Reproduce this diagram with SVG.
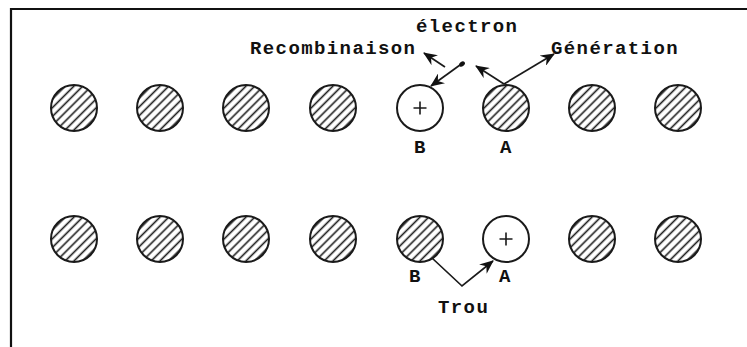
<svg xmlns="http://www.w3.org/2000/svg" width="747" height="347" viewBox="0 0 747 347">
  <defs>
    <!-- diagonal hatching used for the neutral atoms -->
    <pattern id="hatch" patternUnits="userSpaceOnUse" width="6.2" height="6.2" patternTransform="rotate(-45)">
      <line x1="0" y1="3.1" x2="6.2" y2="3.1" stroke="#1a1a1a" stroke-width="1.6"/>
    </pattern>
    <marker id="arrow" markerWidth="14" markerHeight="12" refX="13" refY="6" orient="auto" markerUnits="userSpaceOnUse">
      <path d="M0,0 L14,6 L0,12 L4.5,6 Z" fill="#111"/>
    </marker>
    <g id="atom">
      <circle r="23" fill="url(#hatch)" stroke="#1a1a1a" stroke-width="2"/>
    </g>
    <g id="hole">
      <circle r="23" fill="#fff" stroke="#1a1a1a" stroke-width="2"/>
      <path d="M-6.5,0 H6.5 M0,-6.5 V6.5" stroke="#1a1a1a" stroke-width="1.6"/>
    </g>
  </defs>
  <style>
    .lbl { font-family: "Liberation Mono", "Courier New", monospace; font-weight: bold; font-size: 19px; letter-spacing: 1.4px; fill: #111; }
    .conn { fill: none; stroke: #1a1a1a; stroke-width: 1.7; }
  </style>

  <rect width="747" height="347" fill="#fff"/>
  <!-- frame: top and left edges -->
  <path d="M11,347 V9 H747" fill="none" stroke="#111" stroke-width="2.2"/>

  <!-- upper row of atoms -->
  <g id="row1">
    <use id="r1a1" href="#atom" x="74" y="108"/>
    <use id="r1a2" href="#atom" x="160" y="108"/>
    <use id="r1a3" href="#atom" x="246" y="108"/>
    <use id="r1a4" href="#atom" x="333" y="108"/>
    <use id="r1B" href="#hole" x="420" y="108"/>
    <use id="r1A" href="#atom" x="506" y="108"/>
    <use id="r1a7" href="#atom" x="592" y="108"/>
    <use id="r1a8" href="#atom" x="678" y="108"/>
  </g>

  <!-- lower row of atoms -->
  <g id="row2">
    <use id="r2a1" href="#atom" x="74" y="239"/>
    <use id="r2a2" href="#atom" x="160" y="239"/>
    <use id="r2a3" href="#atom" x="246" y="239"/>
    <use id="r2a4" href="#atom" x="333" y="239"/>
    <use id="r2B" href="#atom" x="420" y="239"/>
    <use id="r2A" href="#hole" x="506" y="239"/>
    <use id="r2a7" href="#atom" x="592" y="239"/>
    <use id="r2a8" href="#atom" x="678" y="239"/>
  </g>

  <!-- free electron -->
  <g id="electron">
    <ellipse cx="462" cy="64" rx="3.2" ry="2.3" transform="rotate(-38 462 64)" fill="#111"/>
  </g>

  <g id="connectors">
    <line class="conn" x1="445" y1="67" x2="424" y2="53" marker-end="url(#arrow)"/>
    <line class="conn" x1="460" y1="65" x2="431" y2="86" marker-end="url(#arrow)"/>
    <line class="conn" x1="504" y1="84" x2="476" y2="66" marker-end="url(#arrow)"/>
    <line class="conn" x1="504" y1="84" x2="554" y2="54" marker-end="url(#arrow)"/>
    <polyline class="conn" points="432,258 462,286 493,261" marker-end="url(#arrow)"/>
  </g>

  <g id="labels">
    <text class="lbl" x="416" y="32">électron</text>
    <text class="lbl" x="250" y="54">Recombinaison</text>
    <text class="lbl" x="551" y="54">Génération</text>
    <text class="lbl" x="414" y="153">B</text>
    <text class="lbl" x="500" y="153">A</text>
    <text class="lbl" x="409" y="282">B</text>
    <text class="lbl" x="499" y="282">A</text>
    <text class="lbl" x="438" y="313">Trou</text>
  </g>
</svg>
